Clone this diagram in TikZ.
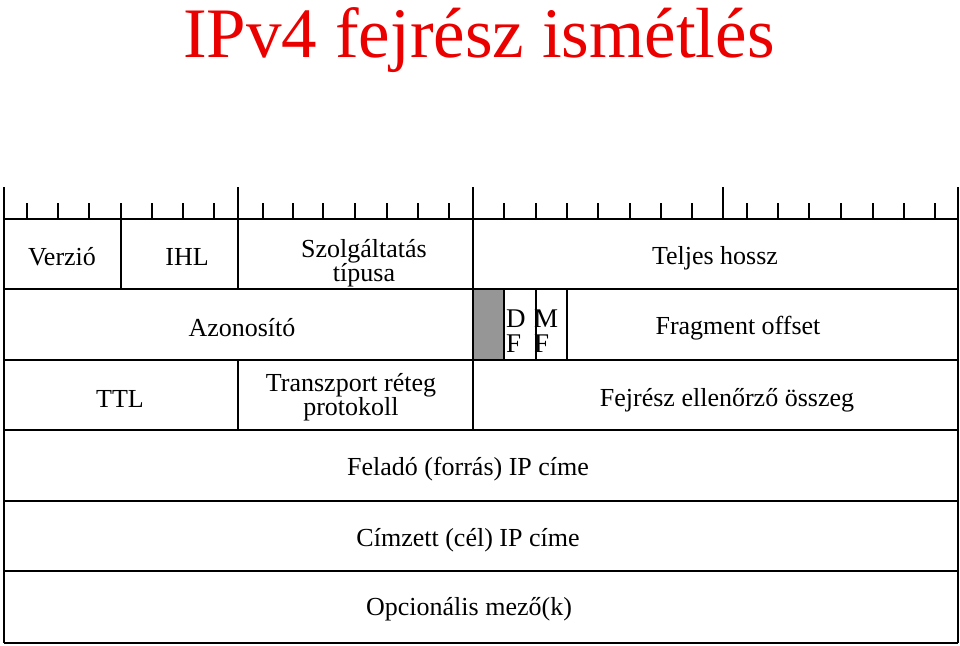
\documentclass[tikz,border=0pt]{standalone}
\usepackage{fontspec}
\setmainfont{Liberation Serif}
\usepackage{xcolor}
\definecolor{flaggray}{RGB}{150,150,150}
\definecolor{titlered}{RGB}{235,0,0}

\begin{document}
\begin{tikzpicture}[x=1pt,y=-1pt,
 box/.style={black,line width=1.3pt},
 lbl/.style={font=\fontsize{26}{24}\selectfont,align=center,inner sep=0pt},
 flag/.style={font=\fontsize{27}{25}\selectfont,align=left,inner sep=0pt,anchor=west}]
\useasboundingbox (0,0) rectangle (960,645);
\node[titlered,font=\fontsize{71}{71}\selectfont,inner sep=0pt,anchor=base] (title) at (479,57) {IPv4 fejrész ismétlés};
% bit ruler
\foreach \x in {27,58,89,121,152,183,214, 263,293,323,355,387,418,449,
                504,536,567,598,630,661,692, 747,778,809,841,873,904,935} {
 \draw[box] (\x,203)--(\x,219);
 }
\foreach \x in {4,238,473,723,958} {
 \draw[box] (\x,187)--(\x,219);
 }
% rows
\fill[flaggray] (473,289) rectangle (504,360);
\foreach \y in {219,289,360,430,501,571,643} {
 \draw[box] (4,\y)--(958,\y);
 }
\draw[box] (4,187)--(4,643);
\draw[box] (958,187)--(958,643);
\draw[box] (121,219)--(121,289);
\draw[box] (238,219)--(238,289);
\draw[box] (238,360)--(238,430);
\draw[box] (473,219)--(473,430);
\foreach \x in {504,536,567} {
 \draw[box] (\x,289)--(\x,360);
 }
% labels
\node[lbl] (verzio) at (62,257) {Verzió};
\node[lbl] (ihl) at (187,257) {IHL};
\node[lbl] (tos) at (364,263) {Szolgáltatás\\típusa};
\node[lbl] (hossz) at (715,258) {Teljes hossz};
\node[lbl] (azon) at (242,328) {Azonosító};
\node[flag] (df) at (506,331) {D\\F};
\node[flag] (mf) at (534,331) {M\\F};
\node[lbl] (frag) at (738,328) {Fragment offset};
\node[lbl] (ttl) at (120,399) {TTL};
\node[lbl] (proto) at (351,397) {Transzport réteg\\protokoll};
\node[lbl] (ellen) at (727,400) {Fejrész ellenőrző összeg};
\node[lbl] (felado) at (468,469) {Feladó (forrás) IP címe};
\node[lbl] (cimzett) at (468,540) {Címzett (cél) IP címe};
\node[lbl] (opcio) at (469,609) {Opcionális mező(k)};
\end{tikzpicture}
\end{document}
